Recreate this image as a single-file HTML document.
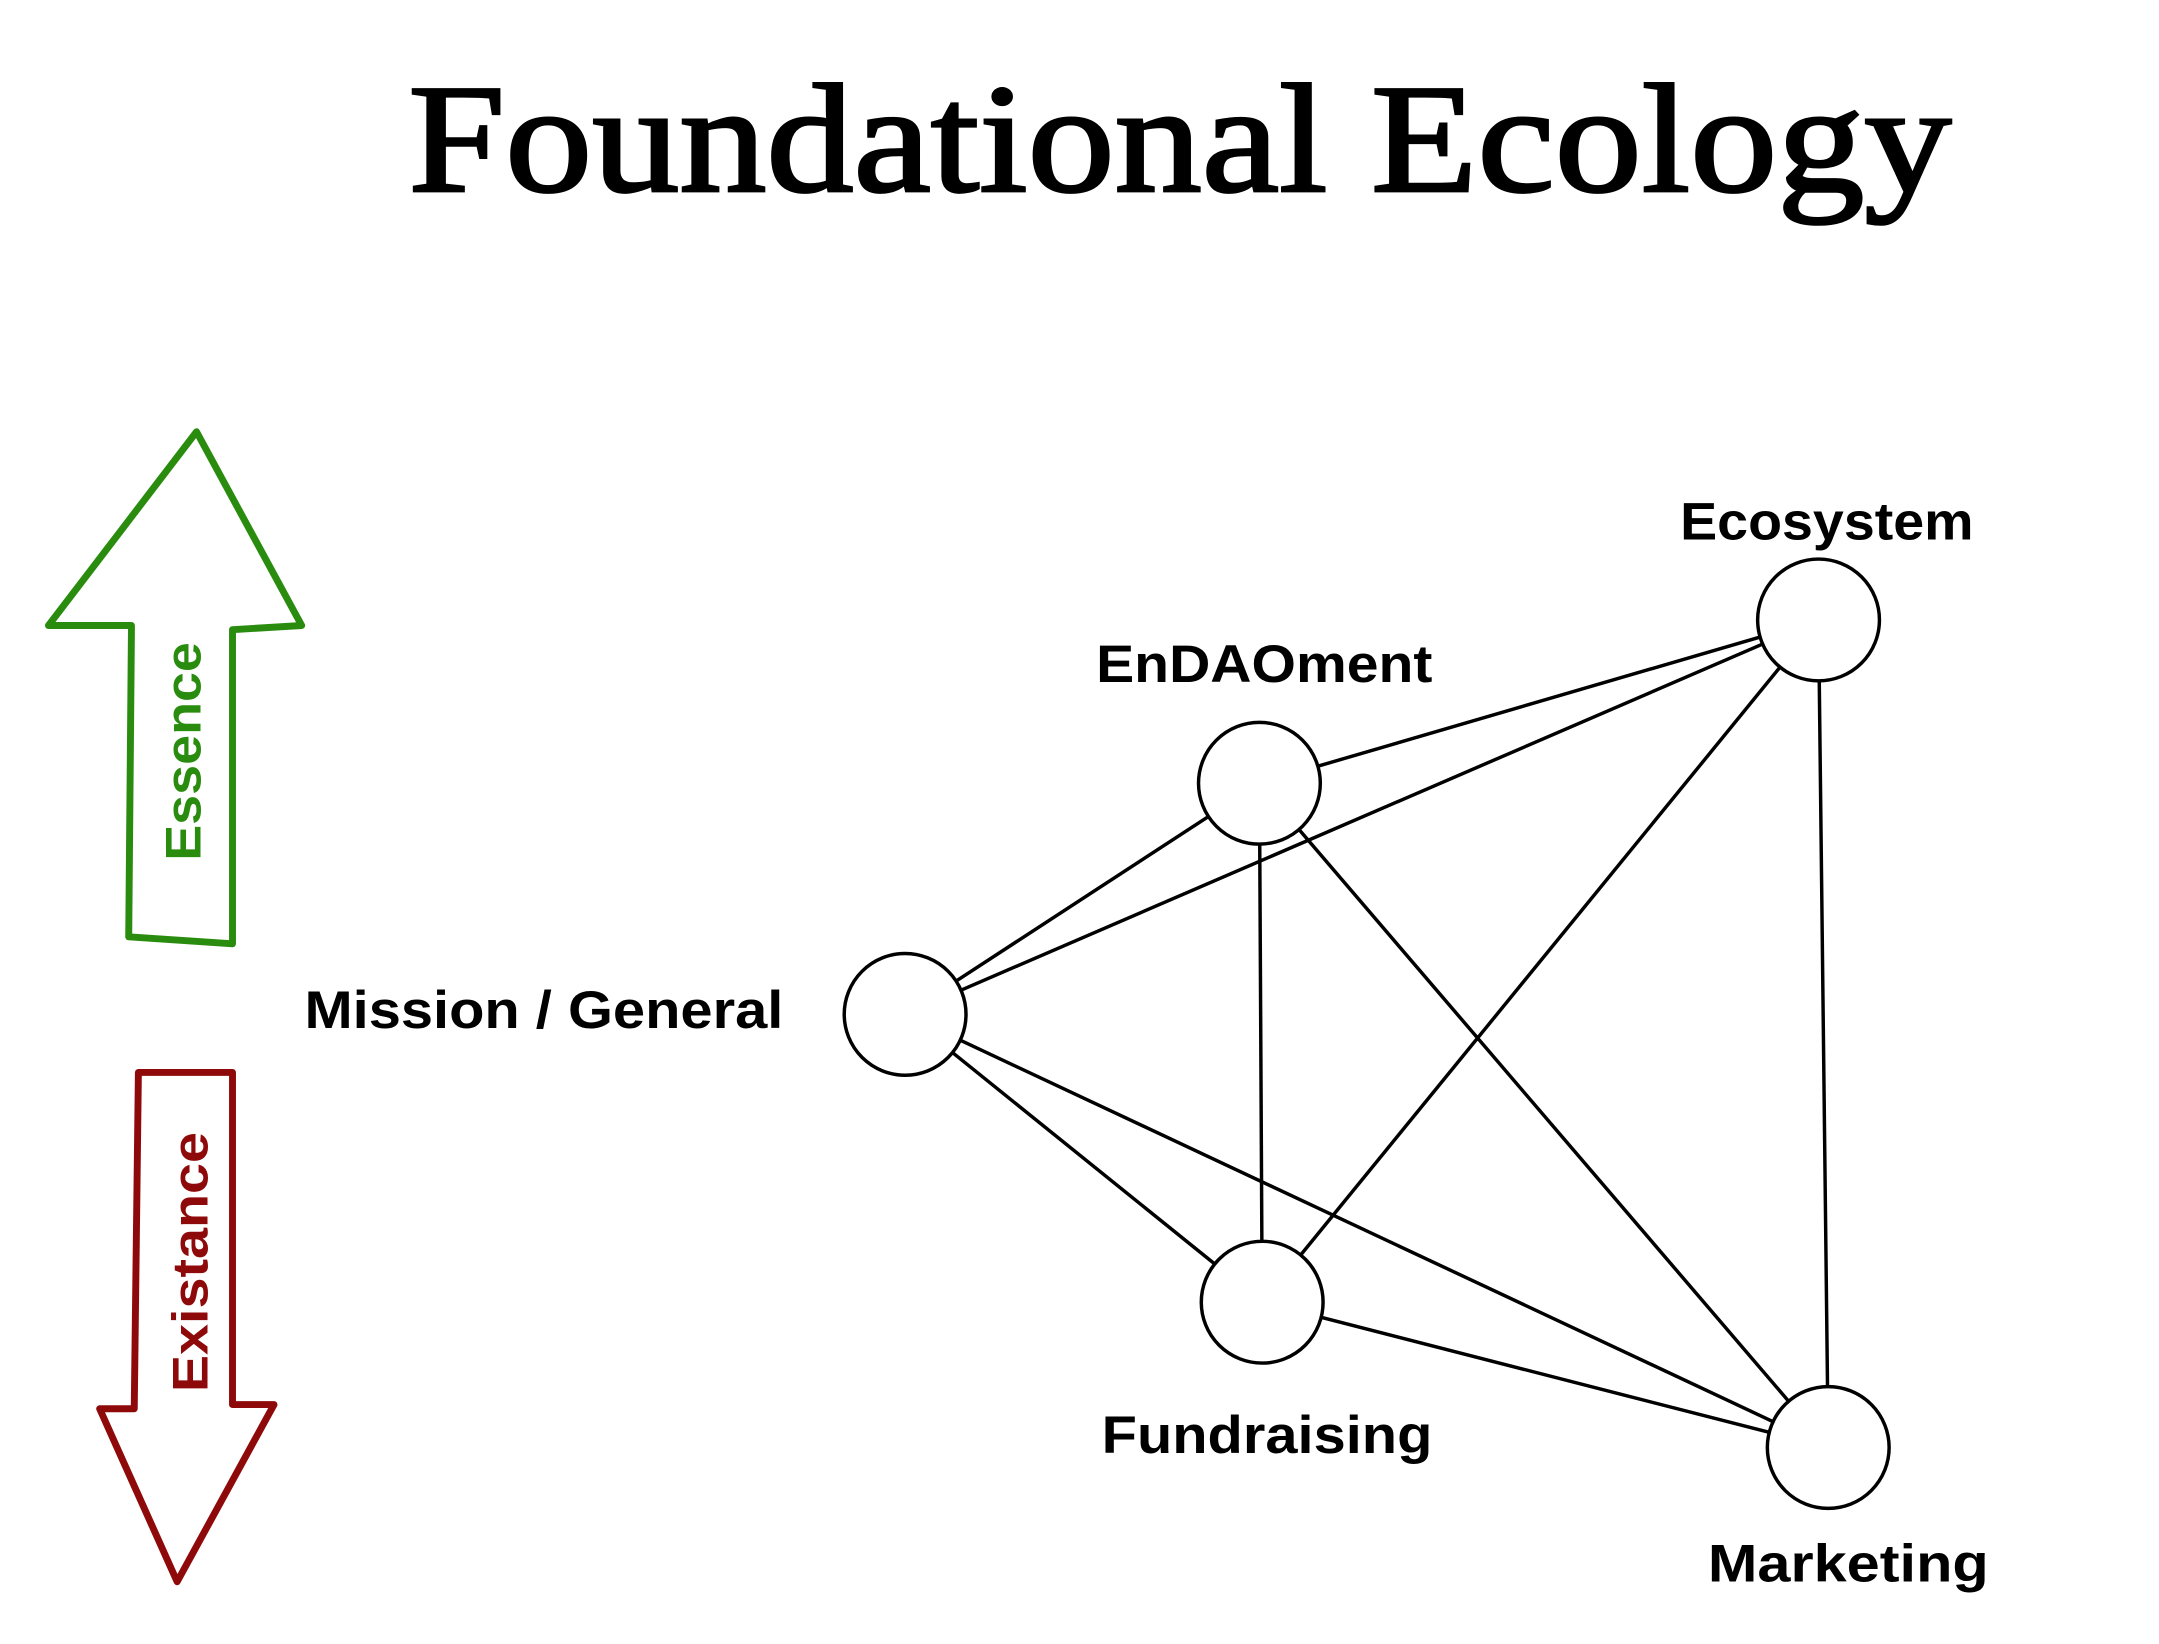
<!DOCTYPE html>
<html><head><meta charset="utf-8"><style>
html,body{margin:0;padding:0;background:#fff;}
svg{display:block;}
</style></head><body>
<svg width="2159" height="1644" viewBox="0 0 1560 1188" preserveAspectRatio="none">
<rect width="1560" height="1188" fill="#fff"/>
<text x="295" y="138" font-family="Liberation Serif, serif" font-size="112" textLength="1115" lengthAdjust="spacingAndGlyphs" fill="#000" stroke="#000" stroke-width="2">Foundational Ecology</text>
<polygon points="142,312 218,452 168,455 168,682 93,677 95,452 35,452" fill="none" stroke="#2a8c0e" stroke-width="5" stroke-linejoin="round"/>
<text transform="translate(145,543) rotate(-90)" text-anchor="middle" font-family="Liberation Sans, sans-serif" font-weight="bold" font-size="36" textLength="158" lengthAdjust="spacingAndGlyphs" fill="#2a8c0e">Essence</text>
<polygon points="100,775 168,775 168,1015 198,1015 128,1143 72,1018 97,1018" fill="none" stroke="#8e0a0a" stroke-width="5" stroke-linejoin="round"/>
<text transform="translate(150,912) rotate(-90)" text-anchor="middle" font-family="Liberation Sans, sans-serif" font-weight="bold" font-size="36" textLength="188" lengthAdjust="spacingAndGlyphs" fill="#8e0a0a">Existance</text>
<g id="graph"></g>
</svg>
<script>
const nodeNames = ["Ecosystem","EnDAOment","Mission / General","Fundraising","Marketing"];
const nodeX = [1314,910,654,912,1321];
const nodeY = [448,566,733,941,1046];
const edgeFrom = [2,2,2,2,1,1,1,0,0,3];
const edgeTo   = [1,0,3,4,0,3,4,3,4,4];
const labelX = [1214,792,220,796,1234];
const labelY = [390,493,743,1050,1143];
const labelW = [212,243,346,239,203];
const R = 44;
const ns = "http://www.w3.org/2000/svg";
const g = document.getElementById('graph');
for (let i = 0; i < edgeFrom.length; i++) {
  const a = edgeFrom[i], b = edgeTo[i];
  const dx = nodeX[b]-nodeX[a], dy = nodeY[b]-nodeY[a], d = Math.hypot(dx,dy);
  const l = document.createElementNS(ns,'line');
  l.setAttribute('x1', nodeX[a]+dx/d*R); l.setAttribute('y1', nodeY[a]+dy/d*R);
  l.setAttribute('x2', nodeX[b]-dx/d*R); l.setAttribute('y2', nodeY[b]-dy/d*R);
  l.setAttribute('stroke','#000'); l.setAttribute('stroke-width','2.5');
  
  
  g.appendChild(l);
}
for (let i = 0; i < nodeNames.length; i++) {
  const c = document.createElementNS(ns,'circle');
  c.setAttribute('cx', nodeX[i]); c.setAttribute('cy', nodeY[i]); c.setAttribute('r', R);
  c.setAttribute('fill','#fff'); c.setAttribute('stroke','#000'); c.setAttribute('stroke-width','2.5');
  
  
  g.appendChild(c);
  const t = document.createElementNS(ns,'text');
  t.setAttribute('x', labelX[i]); t.setAttribute('y', labelY[i]);
  t.setAttribute('textLength', labelW[i]);
  t.setAttribute('lengthAdjust', 'spacingAndGlyphs');
  t.setAttribute('font-family','Liberation Sans, sans-serif');
  t.setAttribute('font-weight','bold'); t.setAttribute('font-size','38');
  t.setAttribute('fill','#000');
  t.textContent = nodeNames[i];
  
  
  g.appendChild(t);
}
</script>
</body></html>
